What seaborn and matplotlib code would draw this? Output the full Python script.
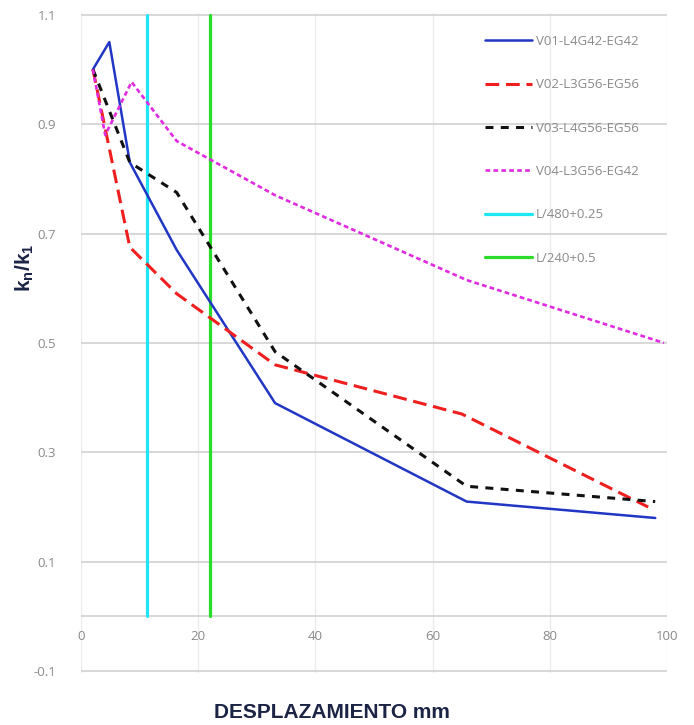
import matplotlib
matplotlib.use("Agg")
import matplotlib.pyplot as plt
import pandas as pd
import seaborn as sns

# data
SERIES = ["V01-L4G42-EG42", "V02-L3G56-EG56", "V03-L4G56-EG56", "V04-L3G56-EG42"]
v01_x = [2, 4.8, 8.3, 16.3, 33.1, 65.8, 98]
v01_y = [1.0, 1.05, 0.83, 0.67, 0.39, 0.21, 0.18]
v02_x = [2, 8.3, 16.3, 33.1, 65.0, 96.8]
v02_y = [1.0, 0.675, 0.59, 0.46, 0.37, 0.20]
v03_x = [2, 8.3, 16.3, 33.1, 65.8, 98]
v03_y = [1.0, 0.83, 0.775, 0.484, 0.238, 0.21]
v04_x = [2, 4.1, 8.6, 16.3, 33.1, 65.8, 99.5]
v04_y = [1.0, 0.88, 0.977, 0.869, 0.77, 0.615, 0.50]

LIMITS = ["L/480+0.25", "L/240+0.5"]
limit_x = [11.3, 22.0]
limit_y = [0.0, 1.1]

x_ticks = [0, 20, 40, 60, 80, 100]
y_ticks = [-0.1, 0.1, 0.3, 0.5, 0.7, 0.9, 1.1]

COLORS = {
    "V01-L4G42-EG42": "#2136c4",
    "V02-L3G56-EG56": "#f01f1f",
    "V03-L4G56-EG56": "#111111",
    "V04-L3G56-EG42": "#e02be0",
    "L/480+0.25": "#1ee6f5",
    "L/240+0.5": "#2bdc2b",
}
DASHES = {
    "V01-L4G42-EG42": "",
    "V02-L3G56-EG56": (4.5, 2.2),
    "V03-L4G56-EG56": (2.6, 2.4),
    "V04-L3G56-EG42": (1.8, 1.2),
}
WIDTHS = {
    "V01-L4G42-EG42": 1.8,
    "V02-L3G56-EG56": 2.2,
    "V03-L4G56-EG56": 2.2,
    "V04-L3G56-EG42": 1.9,
}

sns.set_style("white")
plt.rcParams["font.family"] = ["Open Sans", "DejaVu Sans"]
plt.rcParams["mathtext.default"] = "regular"

rows = []
for name, xs, ys in zip(SERIES, [v01_x, v02_x, v03_x, v04_x], [v01_y, v02_y, v03_y, v04_y]):
    rows += [{"serie": name, "x": a, "y": b} for a, b in zip(xs, ys)]
for name, lx in zip(LIMITS, limit_x):
    rows += [{"serie": name, "x": lx, "y": b} for b in limit_y]
df = pd.DataFrame(rows)

fig = plt.figure(figsize=(6.94, 7.25), dpi=100)
ax = fig.add_axes([0.117, 0.072, 0.844, 0.910])

for name in SERIES:
    d = df[df["serie"] == name]
    sns.lineplot(data=d, x="x", y="y", sort=False, estimator=None, ax=ax,
                 color=COLORS[name], linewidth=WIDTHS[name],
                 label=name, zorder=4)
    if DASHES[name] != "":
        ax.lines[-1].set_dashes(DASHES[name])

# deflection limit lines
for name in LIMITS:
    d = df[df["serie"] == name]
    sns.lineplot(data=d, x="x", y="y", sort=False, estimator=None, ax=ax,
                 color=COLORS[name], linewidth=2.3, label=name, zorder=3)

ax.set_xlim(0, 100)
ax.set_ylim(-0.103, 1.103)
ax.set_yticks(y_ticks)
ax.set_yticklabels([f"{t:.1f}" for t in y_ticks])
ax.set_xticks(x_ticks)

for t in y_ticks:
    ax.axhline(t, color="#d2d2d2", linewidth=1.2, zorder=1)
for t in x_ticks:
    ax.axvline(t, color="#ececec", linewidth=1.0, zorder=0.5)
ax.axhline(0, color="#d2d2d2", linewidth=1.2, zorder=1)

for s in ax.spines.values():
    s.set_visible(False)
ax.spines["bottom"].set_position(("data", 0))
ax.tick_params(axis="x", length=0, pad=10, labelsize=9.5, labelcolor="#8a8a8a")
ax.tick_params(axis="y", length=0, pad=18, labelsize=9.5, labelcolor="#8a8a8a")

navy = "#1c2445"
ax.set_xlabel("")
ax.set_ylabel("")
fig.text(0.478, 0.004, "DESPLAZAMIENTO mm", ha="center", va="bottom",
         fontsize=15, fontweight="bold", color=navy,
         family=["Liberation Sans", "DejaVu Sans"])
fig.text(0.036, 1 - 268 / 725, "k$_n$/k$_1$", ha="center", va="center", rotation=90,
         fontsize=15, fontweight="bold", color=navy,
         family=["Liberation Sans", "DejaVu Sans"])

leg = ax.legend(loc="upper left", bbox_to_anchor=(0.68, 0.975), frameon=False,
                fontsize=9.5, labelspacing=2.3, handlelength=3.6, handletextpad=0.3,
                borderaxespad=0)
for txt in leg.get_texts():
    txt.set_color("#8a8a8a")

fig.savefig("out.png", dpi=100, facecolor="white")
